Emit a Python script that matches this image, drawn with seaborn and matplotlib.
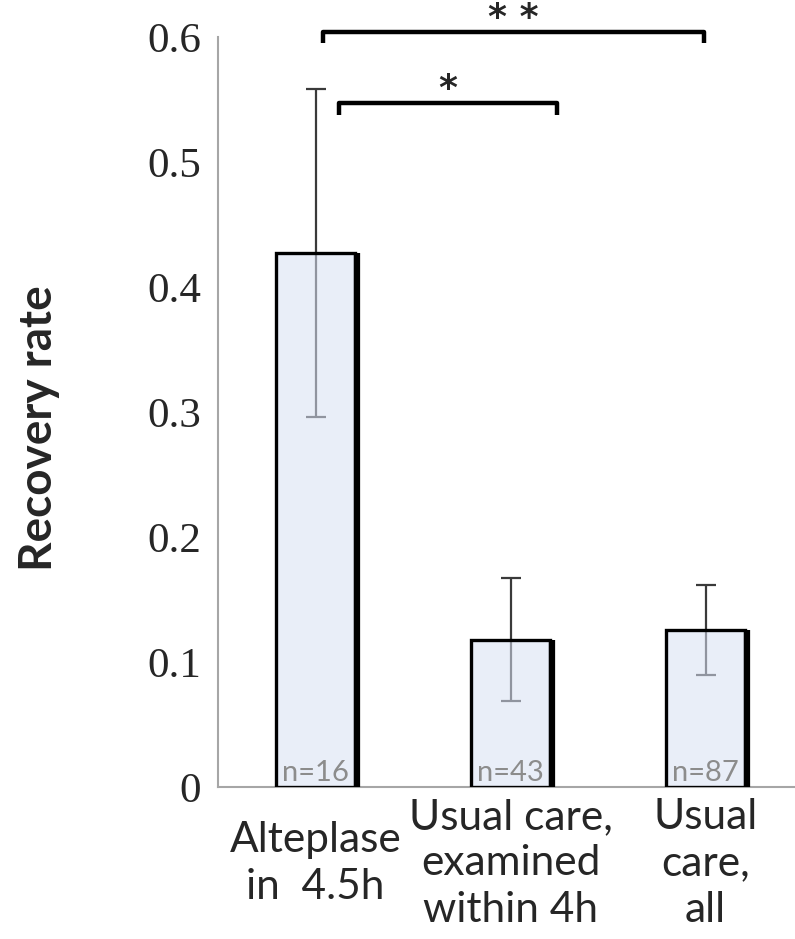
import matplotlib
matplotlib.use("Agg")
import matplotlib.pyplot as plt
import seaborn as sns

# data
categories = ["Alteplase\nin  4.5h", "Usual care,\nexamined\nwithin 4h", "Usual\ncare,\nall"]
rates = [0.427, 0.118, 0.126]
err = [0.131, 0.049, 0.036]
n_labels = ["n=16", "n=43", "n=87"]
yticks = [0, 0.1, 0.2, 0.3, 0.4, 0.5, 0.6]
ytick_labels = ["0", "0.1", "0.2", "0.3", "0.4", "0.5", "0.6"]
# significance brackets: (left x, right x, height, label)
brackets = [(0.04, 1.99, 0.604, "* *"), (0.12, 1.24, 0.547, "*")]

sns.set_style("white")
plt.rcParams['font.family'] = ['Lato', 'DejaVu Sans']

fig = plt.figure(figsize=(7.95, 9.39), dpi=100)
ax = fig.add_axes([218 / 795, 1 - 787 / 939, 585 / 795, 750 / 939])

sns.barplot(x=categories, y=rates, ax=ax, width=0.41, color="#e9eef8",
            edgecolor="black", linewidth=2.4, errorbar=None, zorder=3)

grey = "#a6a6a6"
xs = [p.get_x() + p.get_width() / 2 for p in ax.patches]
for p in ax.patches:
    p.set_facecolor((0.844, 0.878, 0.951, 0.55))
    # heavier right edge, like the drop shadow in the original
    ax.vlines(p.get_x() + p.get_width() + 0.006, 0, p.get_height(),
              color="black", lw=4.5, zorder=4)
ax.errorbar(xs, rates, yerr=err, fmt="none", ecolor="#3a3a3a",
            elinewidth=1.6, capsize=7.5, capthick=1.6, zorder=2)

for x, lab in zip(xs, n_labels):
    ax.text(x, 0.001, lab, ha="center", va="bottom", fontsize=21,
            color="#8c8c8c", zorder=5)

for x0, x1, h, lab in brackets:
    ax.plot([x0, x0, x1, x1], [h - 0.009, h, h, h - 0.009], color="black",
            lw=3.2, solid_capstyle="butt", clip_on=False, zorder=5)
    ax.text((x0 + x1) / 2, h - 0.002, lab, ha="center", va="bottom",
            fontsize=26, fontweight="bold", family="DejaVu Sans")

ax.set_xlim(-0.5, 2.5)
ax.set_ylim(0, 0.6)
ax.set_yticks(yticks)
ax.set_yticklabels(ytick_labels, family=["Liberation Serif", "DejaVu Serif"],
                   fontsize=31)
ax.set_xticks([-0.5, 0.5, 1.5, 2.5])
ax.set_xticklabels([])
ax.set_xticks([0, 1, 2], minor=True)
ax.set_xticklabels(categories, minor=True, fontsize=30.5, linespacing=1.28)
for lab in ax.get_xticklabels(minor=True):
    lab.set_verticalalignment("center")
ax.tick_params(axis="x", which="minor", length=0, pad=55)
ax.tick_params(axis="x", which="major", direction="out", length=7,
               color=grey, width=1.5)
ax.tick_params(axis="y", direction="out", length=11, color=grey, width=1.5,
               pad=1)

for side in ["top", "right"]:
    ax.spines[side].set_visible(False)
for side in ["left", "bottom"]:
    ax.spines[side].set_color(grey)
    ax.spines[side].set_linewidth(1.5)

ax.set_ylabel("Recovery rate", fontsize=33, fontweight="bold")
ax.yaxis.set_label_coords(-0.27, 0.479)

fig.savefig("out.png", dpi=100)
